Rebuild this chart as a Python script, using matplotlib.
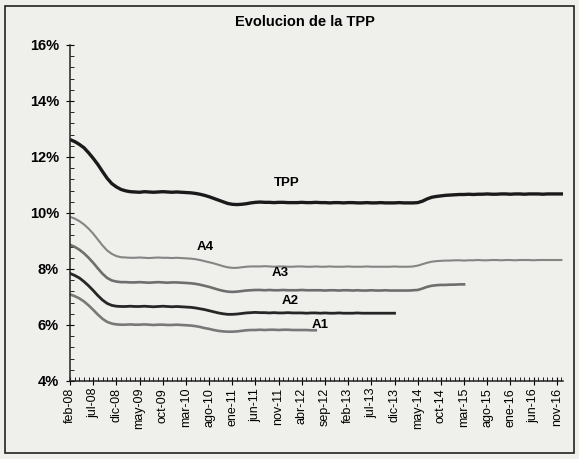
import numpy as np
import matplotlib.pyplot as plt
from matplotlib.patches import Rectangle
from matplotlib.ticker import MultipleLocator, FuncFormatter

plt.rcParams['font.family'] = ['Liberation Sans', 'DejaVu Sans']

# monthly values, feb-08 onwards (%)
tpp = [12.62, 12.55, 12.45, 12.33, 12.15, 11.95, 11.73, 11.48, 11.24, 11.05,
       10.93, 10.84, 10.79, 10.76, 10.75, 10.74, 10.76, 10.75, 10.74, 10.75,
       10.76, 10.75, 10.74, 10.75, 10.74, 10.73, 10.72, 10.7, 10.67, 10.63,
       10.58, 10.52, 10.46, 10.4, 10.34, 10.31, 10.3, 10.31, 10.33, 10.36,
       10.38, 10.39, 10.38, 10.38, 10.37, 10.38, 10.38, 10.37, 10.37, 10.37,
       10.38, 10.37, 10.37, 10.38, 10.37, 10.37, 10.36, 10.37, 10.37, 10.36,
       10.37, 10.37, 10.36, 10.36, 10.37, 10.36, 10.36, 10.37, 10.36, 10.36,
       10.36, 10.37, 10.36, 10.36, 10.36, 10.37, 10.42, 10.5, 10.56, 10.59,
       10.61, 10.63, 10.64, 10.65, 10.66, 10.66, 10.67, 10.66, 10.67, 10.67,
       10.68, 10.67, 10.67, 10.68, 10.68, 10.67, 10.68, 10.68, 10.67, 10.68,
       10.68, 10.68, 10.67, 10.68, 10.68, 10.68, 10.68]

a4 = [9.86, 9.8, 9.71, 9.59, 9.44, 9.26, 9.05, 8.84, 8.66, 8.54,
      8.46, 8.42, 8.41, 8.4, 8.4, 8.41, 8.4, 8.39, 8.4, 8.41,
      8.4, 8.4, 8.39, 8.4, 8.39, 8.38, 8.37, 8.35, 8.32, 8.28,
      8.24, 8.2, 8.15, 8.1, 8.06, 8.04, 8.04, 8.06, 8.08, 8.09,
      8.09, 8.09, 8.1, 8.09, 8.08, 8.09, 8.09, 8.08, 8.08, 8.09,
      8.09, 8.08, 8.08, 8.09, 8.08, 8.08, 8.09, 8.08, 8.08, 8.08,
      8.09, 8.08, 8.08, 8.08, 8.09, 8.08, 8.08, 8.08, 8.08, 8.08,
      8.09, 8.08, 8.08, 8.08, 8.09, 8.12, 8.17, 8.22, 8.26, 8.28,
      8.29, 8.3, 8.3, 8.31, 8.31, 8.3, 8.31, 8.31, 8.32, 8.31,
      8.31, 8.32, 8.32, 8.31, 8.32, 8.32, 8.31, 8.32, 8.32, 8.32,
      8.31, 8.32, 8.32, 8.32, 8.32, 8.32, 8.32]

a3 = [8.86, 8.79, 8.69, 8.56, 8.4, 8.22, 8.02, 7.83, 7.68, 7.59,
      7.55, 7.53, 7.53, 7.52, 7.52, 7.53, 7.52, 7.51, 7.52, 7.53,
      7.52, 7.51, 7.52, 7.52, 7.51, 7.5, 7.49, 7.47, 7.44, 7.4,
      7.36, 7.31, 7.26, 7.22, 7.19, 7.18, 7.19, 7.21, 7.23, 7.24,
      7.25, 7.25, 7.24, 7.25, 7.24, 7.24, 7.25, 7.24, 7.24, 7.24,
      7.25, 7.24, 7.24, 7.24, 7.24, 7.23, 7.24, 7.24, 7.23, 7.24,
      7.24, 7.23, 7.24, 7.23, 7.23, 7.24, 7.23, 7.23, 7.24, 7.23,
      7.23, 7.23, 7.23, 7.23, 7.24, 7.25, 7.3, 7.36, 7.4, 7.42,
      7.43, 7.43, 7.44, 7.44, 7.45, 7.45]

a2 = [7.84, 7.77, 7.68, 7.55, 7.4, 7.23, 7.05, 6.89, 6.77, 6.7,
      6.67, 6.66, 6.66, 6.67, 6.66, 6.66, 6.67, 6.66, 6.65, 6.66,
      6.67, 6.66, 6.65, 6.66, 6.65, 6.64, 6.63, 6.61, 6.58, 6.55,
      6.51, 6.47, 6.43, 6.4, 6.38, 6.38, 6.39, 6.41, 6.43, 6.44,
      6.45, 6.44, 6.44, 6.43, 6.44, 6.43, 6.43, 6.44, 6.43, 6.43,
      6.43, 6.42, 6.43, 6.43, 6.42, 6.43, 6.42, 6.42, 6.43, 6.42,
      6.42, 6.42, 6.43, 6.42, 6.42, 6.42, 6.42, 6.42, 6.42, 6.42,
      6.42]

a1 = [7.09, 7.03, 6.95, 6.84, 6.7, 6.54, 6.37, 6.22, 6.11, 6.05,
      6.02, 6.01, 6.01, 6.02, 6.01, 6.01, 6.02, 6.01, 6.0, 6.01,
      6.01, 6.0, 6.0, 6.01, 6.0, 5.99, 5.98, 5.96, 5.93, 5.89,
      5.86, 5.82, 5.79, 5.77, 5.76, 5.76, 5.77, 5.79, 5.81, 5.82,
      5.82, 5.83, 5.82, 5.83, 5.83, 5.82, 5.83, 5.83, 5.82, 5.82,
      5.82, 5.82, 5.81, 5.81]

tick_labels = ['feb-08', 'jul-08', 'dic-08', 'may-09', 'oct-09', 'mar-10',
               'ago-10', 'ene-11', 'jun-11', 'nov-11', 'abr-12', 'sep-12',
               'feb-13', 'jul-13', 'dic-13', 'may-14', 'oct-14', 'mar-15',
               'ago-15', 'ene-16', 'jun-16', 'nov-16']

series = [
    ('TPP', tpp, '#1a1a1a', 2.4, (46.8, 11.07)),
    ('A4', a4, '#858585', 1.5, (29.1, 8.79)),
    ('A3', a3, '#6e6e6e', 1.9, (45.3, 7.86)),
    ('A2', a2, '#262626', 2.0, (47.4, 6.86)),
    ('A1', a1, '#787878', 1.9, (53.9, 6.0)),
]

bg = '#efefec'
fig = plt.figure(figsize=(5.79, 4.59), dpi=100, facecolor=bg)
fig.patches.append(Rectangle((0.009, 0.012), 0.982, 0.976, transform=fig.transFigure,
                             fill=False, edgecolor='#222222', linewidth=1.2))
ax = fig.add_axes([0.121, 0.17, 0.851, 0.732])
ax.set_facecolor(bg)

for name, vals, col, lw, pos in series:
    ax.plot(np.arange(len(vals)), vals, color=col, linewidth=lw)
    ax.text(pos[0], pos[1], name, fontsize=9.5, fontweight='bold', ha='center', va='center')

ax.set_xlim(0, 106.3)
ax.set_ylim(4, 16)
ax.spines['top'].set_visible(False)
ax.spines['right'].set_visible(False)
ax.spines['left'].set_color('#222222')
ax.spines['bottom'].set_color('#222222')
ax.spines['left'].set_linewidth(1.1)
ax.spines['bottom'].set_linewidth(1.1)

ax.set_xticks(np.arange(len(tick_labels)) * 5)
ax.set_xticklabels(tick_labels, rotation=90, fontsize=9)
ax.xaxis.set_minor_locator(MultipleLocator(1))
ax.yaxis.set_major_locator(MultipleLocator(2))
ax.yaxis.set_minor_locator(MultipleLocator(0.4))
ax.yaxis.set_major_formatter(FuncFormatter(lambda v, p: f'{v:.0f}%'))
for lab in ax.get_yticklabels():
    lab.set_fontweight('bold')
ax.tick_params(axis='y', labelsize=10.5, length=6, direction='inout', pad=5)
ax.tick_params(axis='x', length=6, direction='inout', pad=2)
ax.tick_params(which='minor', length=3, direction='in')

fig.text(0.527, 0.952, 'Evolucion de la TPP', fontsize=10.5, fontweight='bold',
         ha='center', va='center')

fig.savefig('out.png', dpi=100, facecolor=bg)
